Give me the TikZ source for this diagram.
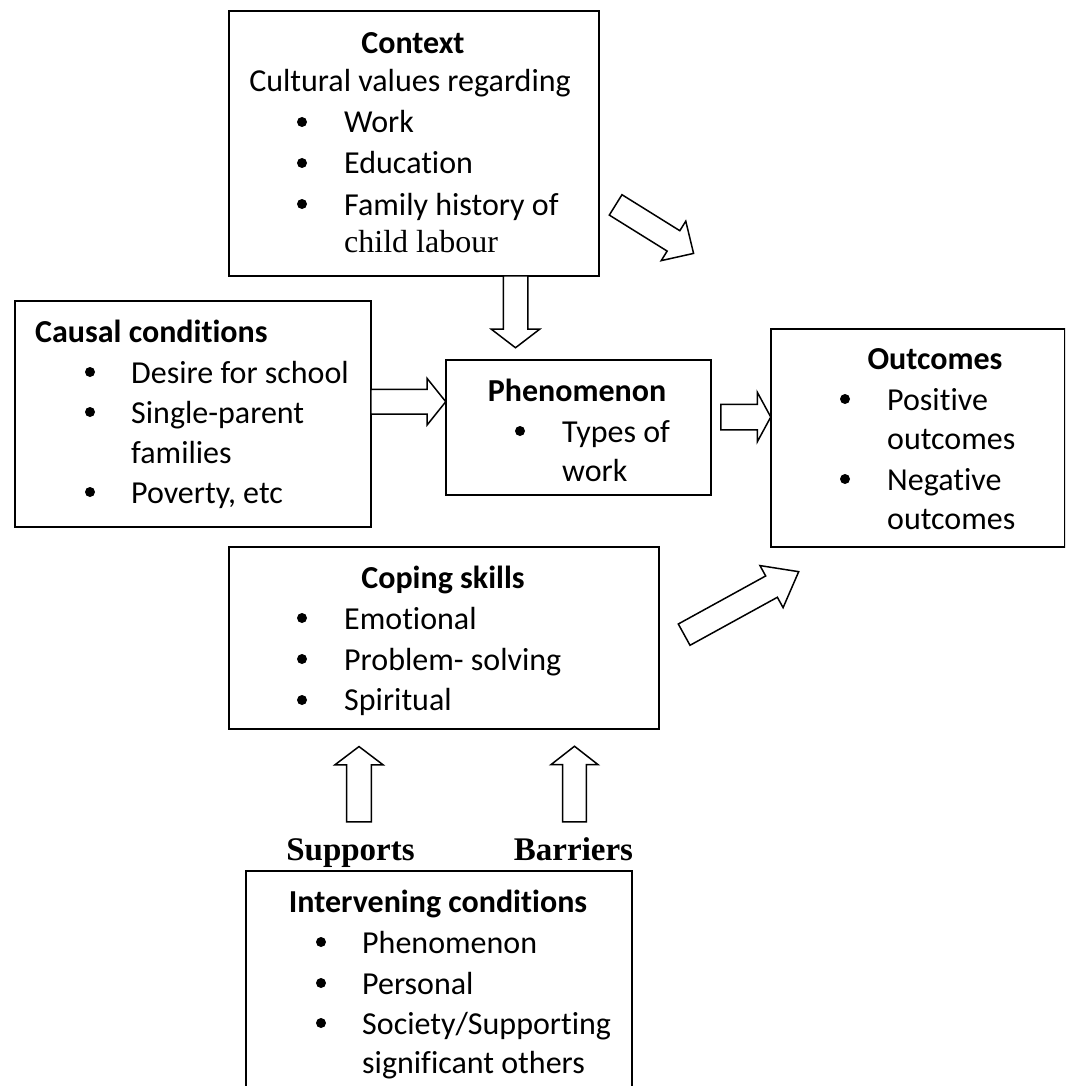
\documentclass[tikz,border=0pt]{standalone}
\usepackage{fontspec}
\setmainfont{Carlito}[Ligatures=NoCommon]
\newfontfamily\serifface{Liberation Serif}
\usetikzlibrary{shapes.arrows}

\tikzset{
  box/.style={draw, line width=1.6pt, rectangle, anchor=north west, inner sep=0pt},
  % hollow block arrow placed by its tail; shaft width = 2 * inner ysep
  fat/.style={single arrow, draw, fill=white, line width=1.5pt, inner xsep=0pt,
    single arrow head indent=0pt, anchor=tail, minimum width=0pt},
  dot/.style={circle, fill, inner sep=0pt, minimum size=10pt},
  txt/.style={anchor=base west, inner sep=0pt, font=\fontsize{32}{39}\selectfont},
  ctr/.style={anchor=base, inner sep=0pt, font=\fontsize{32}{39}\selectfont},
  head/.style={anchor=base, inner sep=0pt, font=\fontsize{32}{39}\selectfont\bfseries},
  side/.style={anchor=base, inner sep=0pt, font=\fontsize{33}{40}\selectfont\serifface\bfseries},
}

\begin{document}
\begin{tikzpicture}[x=1pt, y=-1pt]
\clip (0,0) rectangle (1065,1086);
\fill[white] (0,0) rectangle (1065,1086);

% boxes
\node[box, minimum width=370pt, minimum height=265pt] (context) at (228,10) {};
\node[box, minimum width=356pt, minimum height=226pt] (causal) at (14,300) {};
\node[box, minimum width=265pt, minimum height=135pt] (phen) at (445,359) {};
\node[box, minimum width=294pt, minimum height=218pt] (outc) at (770,328) {};
\node[box, minimum width=430pt, minimum height=182pt] (coping) at (228,546) {};
\node[box, minimum width=386pt, minimum height=260pt] (interv) at (245,870) {};

% context
\node[head] (ctxT) at (413,54) {Context};
\node[ctr] (ctxS) at (410,92) {Cultural values regarding};
\node[dot] (ctxD1) at (302,122) {};
\node[dot] (ctxD2) at (302,163) {};
\node[dot] (ctxD3) at (302,204) {};
\node[txt] (ctx1) at (344,133) {Work};
\node[txt] (ctx2) at (344,174) {Education};
\node[txt] (ctx3) at (344,215) {Family history of};
\node[txt, font=\fontsize{32}{39}\selectfont\serifface] (ctx4) at (344,252) {child labour};

% causal conditions
\node[head, anchor=base west] (cauT) at (35,342) {Causal conditions};
\node[dot] (cauD1) at (90,372) {};
\node[dot] (cauD2) at (90,412) {};
\node[dot] (cauD3) at (90,492) {};
\node[txt] (cau1) at (131,383) {Desire for school};
\node[txt] (cau2) at (131,423) {Single-parent};
\node[txt] (cau3) at (131,463) {families};
\node[txt] (cau4) at (131,503) {Poverty, etc};

% phenomenon
\node[head] (phT) at (577,401) {Phenomenon};
\node[dot] (phD1) at (520,431) {};
\node[txt] (ph1) at (562,442) {Types of};
\node[txt] (ph2) at (562,481) {work};

% outcomes
\node[head] (ouT) at (935,369) {Outcomes};
\node[dot] (ouD1) at (845,399) {};
\node[dot] (ouD2) at (845,479) {};
\node[txt] (ou1) at (887,410) {Positive};
\node[txt] (ou2) at (887,449) {outcomes};
\node[txt] (ou3) at (887,490) {Negative};
\node[txt] (ou4) at (887,529) {outcomes};

% coping skills
\node[head] (coT) at (443,588) {Coping skills};
\node[dot] (coD1) at (302,618) {};
\node[dot] (coD2) at (302,659) {};
\node[dot] (coD3) at (302,700) {};
\node[txt] (co1) at (344,629) {Emotional};
\node[txt] (co2) at (344,670) {Problem- solving};
\node[txt] (co3) at (344,710) {Spiritual};

% intervening conditions
\node[head] (inT) at (438,912) {Intervening conditions};
\node[dot] (inD1) at (321,942) {};
\node[dot] (inD2) at (321,983) {};
\node[dot] (inD3) at (321,1023) {};
\node[txt] (in1) at (362,953) {Phenomenon};
\node[txt] (in2) at (362,994) {Personal};
\node[txt] (in3) at (362,1034) {Society/Supporting};
\node[txt] (in4) at (362,1073) {significant others};

% labels above the intervening box
\node[side] (sup) at (350.5,860) {Supports};
\node[side] (bar) at (573.5,860) {Barriers};

% block arrows, each placed at its tail
\node[fat, rotate=-31.9, minimum height=91.8pt, inner ysep=11.25pt,
  single arrow head extend=11.25pt, single arrow tip angle=89] (a1) at (615,204.5) {};
\node[fat, rotate=-90, minimum height=72pt, inner ysep=11.5pt,
  single arrow head extend=12pt, single arrow tip angle=105] (a2) at (515.5,275) {};
\node[fat, minimum height=75pt, inner ysep=11.7pt,
  single arrow head extend=10.8pt, single arrow tip angle=102.6] (a3) at (370,401.7) {};
\node[fat, minimum height=50pt, inner ysep=12pt,
  single arrow head extend=12pt, single arrow tip angle=123] (a4) at (720,417) {};
\node[fat, rotate=28.8, minimum height=130.7pt, inner ysep=11.4pt,
  single arrow head extend=11.85pt, single arrow tip angle=75.5] (a5) at (683.5,635) {};
\node[fat, rotate=90, minimum height=75.4pt, inner ysep=11.7pt,
  single arrow head extend=11.65pt, single arrow tip angle=105.6] (a6) at (359,822.7) {};
\node[fat, rotate=90, minimum height=75.7pt, inner ysep=11.2pt,
  single arrow head extend=11.6pt, single arrow tip angle=104] (a7) at (574.5,822.7) {};
\end{tikzpicture}
\end{document}
